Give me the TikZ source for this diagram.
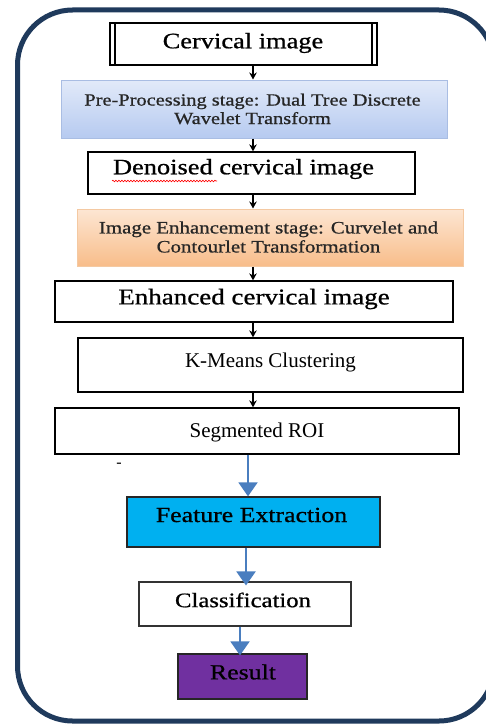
\documentclass[tikz,border=0pt]{standalone}
\usepackage{fontspec}
\setmainfont{Liberation Serif}
\newfontfamily\camb[FakeStretch=1.2,FakeBold=0.8]{Liberation Serif}
\usetikzlibrary{arrows.meta,decorations.pathmorphing}
\definecolor{frameblue}{HTML}{1F3A5C}
\definecolor{arrblue}{HTML}{4A7EBF}
\definecolor{fecyan}{HTML}{00B0F0}
\definecolor{respurple}{HTML}{7030A0}
\definecolor{pretop}{HTML}{E2EAF9}
\definecolor{prebot}{HTML}{B6CAF0}
\definecolor{preline}{HTML}{A9BDE3}
\definecolor{ortop}{HTML}{FDE6D3}
\definecolor{orbot}{HTML}{F8BD8A}
\definecolor{orline}{HTML}{F4C9A2}
\begin{document}
\begin{tikzpicture}[x=1pt,y=-1pt,
  box/.style={draw=black,line width=1.3pt,minimum width=#1,inner sep=0pt},
  txt/.style={inner sep=0pt,align=center,text=black},
  arr/.style={line width=1.2pt,-{Stealth[length=7pt,width=7.5pt]}},
  barr/.style={line width=2pt,draw=arrblue,-{Triangle[length=14pt,width=19pt,fill=arrblue]}}]
\useasboundingbox (0,0) rectangle (486,725);
\fill[white] (0,0) rectangle (486,725);
% outer frame
\draw[line width=5pt,draw=frameblue,rounded corners=55pt] (17.5,10) rectangle (494,721);
% boxes
\node[box=267pt,minimum height=42pt] (cerv) at (243.5,44) {};
\draw[line width=1.3pt] (115,23) -- (115,65) (372,23) -- (372,65);
\node[txt,font=\camb\fontsize{22}{26}\selectfont] (cervt) at (243,43) {Cervical image};

\node[draw=preline,line width=1pt,top color=pretop,bottom color=prebot,minimum width=386pt,minimum height=58pt,inner sep=0pt] (pre) at (254,109) {};
\node[txt,font=\camb\fontsize{17}{18.5}\selectfont,text=black!85] (pret) at (252.5,109) {Pre-Processing stage: Dual Tree Discrete\\Wavelet Transform};

\node[box=327pt,minimum height=42pt] (den) at (251.5,173) {};
\node[txt,font=\camb\fontsize{22}{26}\selectfont] (dent) at (243.5,169) {Denoised cervical image};
\draw[red,line width=0.6pt,decorate,decoration={snake,amplitude=0.8pt,segment length=3pt}] (112,181) -- (217,181);

\node[draw=orline,line width=1pt,top color=ortop,bottom color=orbot,minimum width=386pt,minimum height=57pt,inner sep=0pt] (enh) at (270,237.5) {};
\node[txt,font=\camb\fontsize{17.4}{19}\selectfont,text=black!85] (enht) at (268.5,237) {Image Enhancement stage: Curvelet and\\Contourlet Transformation};

\node[box=398pt,minimum height=41pt] (enc) at (254,301.5) {};
\node[txt,font=\camb\fontsize{22.5}{26}\selectfont] (enct) at (254,299) {Enhanced cervical image};

\node[box=385pt,minimum height=54pt] (km) at (270.5,365) {};
\node[txt,font=\fontsize{21}{24}\selectfont] (kmt) at (270.5,362) {K-Means Clustering};

\node[box=404pt,minimum height=46pt] (seg) at (257,431) {};
\node[txt,font=\fontsize{21}{24}\selectfont] (segt) at (257,432) {Segmented ROI};

\node[txt,font=\fontsize{16}{18}\selectfont] (dash) at (119,465) {-};

\node[box=253pt,minimum height=50pt,fill=fecyan,draw=black!85] (fe) at (253.5,522) {};
\node[txt,font=\camb\fontsize{21.5}{25}\selectfont] (fet) at (251.5,515) {Feature Extraction};

\node[box=212pt,minimum height=44pt,line width=1.1pt,draw=black!80] (cls) at (245,604) {};
\node[txt,font=\camb\fontsize{20.6}{24}\selectfont] (clst) at (243,600) {Classification};

\node[box=129pt,minimum height=45pt,fill=respurple,draw=black!85] (res) at (242.5,676.5) {};
\node[txt,font=\camb\fontsize{21.5}{25}\selectfont] (rest) at (243,672) {Result};

% connectors
\draw[arr] (cerv.south -| 253,0) -- (pre.north -| 253,0);
\draw[arr] (pre.south -| 253,0) -- (den.north -| 253,0);
\draw[arr] (den.south -| 253,0) -- (enh.north -| 253,0);
\draw[arr] (enh.south -| 253,0) -- (enc.north -| 253,0);
\draw[arr] (enc.south -| 253,0) -- (km.north -| 253,0);
\draw[arr] (km.south -| 253,0) -- (seg.north -| 253,0);
\draw[barr] (seg.south -| 248,0) -- (fe.north -| 248,0);
\draw[barr] (fe.south -| 246,0) -- ([yshift=-4pt]cls.north -| 246,0);
\draw[barr] (cls.south -| 240,0) -- ([yshift=-2pt]res.north -| 240,0);
\end{tikzpicture}
\end{document}
